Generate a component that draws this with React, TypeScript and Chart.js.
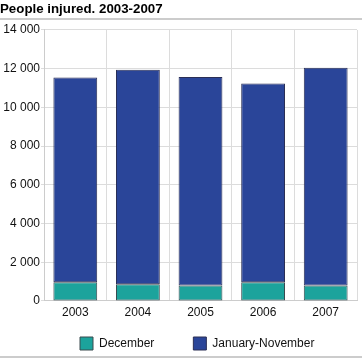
import React, { useEffect, useRef } from "react";
import { Chart, registerables } from "chart.js";

Chart.register(...registerables);

const years = ["2003", "2004", "2005", "2006", "2007"];
const december = [970, 865, 795, 970, 795];
const januaryNovember = [10570, 11085, 10775, 10260, 11255];
const yMax = 14000;
const yStep = 2000;
const titleText = "People injured. 2003-2007";
const seriesLabels = ["December", "January-November"];

const FONT = "'Liberation Sans', Arial, Helvetica, sans-serif";

function fmt(v: number): string {
  return String(v).replace(/\B(?=(\d{3})+(?!\d))/g, " ");
}

const framePlugin = {
  id: "frameLines",
  beforeLayout(chart: any) {
    const lg = chart.legend;
    if (lg && !lg._patchedFit) {
      const orig = lg.fit;
      lg.fit = function () {
        orig.call(this);
        this.height = 24;
      };
      lg._patchedFit = true;
    }
  },
  afterLayout(chart: any) {
    const lg = chart.legend;
    if (lg) {
      const pad = lg.options.labels.padding;
      lg.left = 80 - pad;
      lg.right = 362;
      lg.top = 337 - pad;
    }
  },
  afterDraw(chart: any) {
    const ctx = chart.ctx;
    ctx.save();
    ctx.fillStyle = "#cccccc";
    ctx.fillRect(0, 18, 362, 2);
    ctx.fillRect(0, 356, 362, 2);
    ctx.restore();
  },
};

export default function App() {
  const ref = useRef<HTMLCanvasElement | null>(null);
  useEffect(() => {
    if (!ref.current) return;
    const chart = new Chart(ref.current, {
      type: "bar",
      data: {
        labels: years,
        datasets: [
          {
            label: seriesLabels[0],
            data: december,
            backgroundColor: "#1ca39c",
            borderColor: "#3a4a4f",
            borderWidth: 1,
            borderSkipped: false,
          },
          {
            label: seriesLabels[1],
            data: januaryNovember,
            backgroundColor: "#2a4599",
            borderColor: "#2a2f55",
            borderWidth: 1,
            borderSkipped: false,
          },
        ],
      },
      options: {
        responsive: false,
        animation: false,
        layout: { padding: { top: 0, right: 5, bottom: 0, left: 0 } },
        datasets: {
          bar: { categoryPercentage: 0.7, barPercentage: 1 },
        },
        scales: {
          x: {
            stacked: true,
            grid: { color: "#dcdcdc", drawTicks: false, offset: true },
            border: { color: "#cccccc" },
            ticks: {
              color: "#111",
              padding: 4,
              font: { family: FONT, size: 12 },
            },
            afterFit: (s: any) => {
              s.height = 34;
            },
          },
          y: {
            stacked: true,
            min: 0,
            max: yMax,
            grid: { color: "#dcdcdc", tickLength: 3 },
            border: { color: "#cccccc" },
            ticks: {
              stepSize: yStep,
              padding: 1,
              color: "#111",
              font: { family: FONT, size: 12 },
              callback: (v: any) => fmt(Number(v)),
            },
            afterFit: (s: any) => {
              s.width = 44;
            },
          },
        },
        plugins: {
          title: {
            display: true,
            text: titleText,
            align: "start",
            color: "#000",
            font: { family: FONT, size: 13.3, weight: "bold" },
            padding: { top: 1, bottom: 13 },
          },
          legend: {
            display: true,
            position: "bottom",
            align: "start",
            labels: {
              boxWidth: 13,
              boxHeight: 13,
              padding: 39,
              color: "#111",
              font: { family: FONT, size: 12 },
            },
          },
          tooltip: { enabled: false },
        },
      },
      plugins: [framePlugin],
    });
    return () => chart.destroy();
  }, []);
  return (
    <div style={{ position: "absolute", left: 0, top: 0, width: 362, height: 359, background: "#fff" }}>
      <canvas ref={ref} width={362} height={359} />
    </div>
  );
}
